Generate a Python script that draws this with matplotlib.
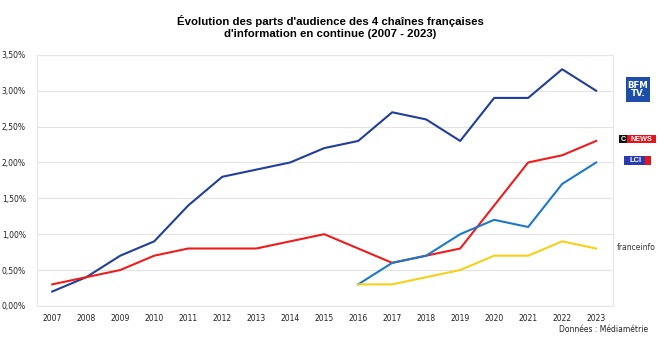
import matplotlib.pyplot as plt
from matplotlib.patches import Rectangle
from matplotlib.ticker import FuncFormatter

years = list(range(2007, 2024))
bfm = [0.2, 0.4, 0.7, 0.9, 1.4, 1.8, 1.9, 2.0, 2.2, 2.3, 2.7, 2.6, 2.3, 2.9, 2.9, 3.3, 3.0]
cnews = [0.3, 0.4, 0.5, 0.7, 0.8, 0.8, 0.8, 0.9, 1.0, 0.8, 0.6, 0.7, 0.8, 1.4, 2.0, 2.1, 2.3]
years_new = list(range(2016, 2024))
lci = [0.3, 0.6, 0.7, 1.0, 1.2, 1.1, 1.7, 2.0]
franceinfo = [0.3, 0.3, 0.4, 0.5, 0.7, 0.7, 0.9, 0.8]

fig = plt.figure(figsize=(6.6, 3.41), dpi=100)
ax = fig.add_axes([0.056, 0.103, 0.873, 0.736])

ax.plot(years, bfm, color='#1f3f98', lw=1.5)
ax.plot(years, cnews, color='#ef1c1c', lw=1.5)
ax.plot(years_new, lci, color='#1c78c8', lw=1.5)
ax.plot(years_new, franceinfo, color='#f7d117', lw=1.5)

ax.set_xlim(2006.55, 2023.5)
ax.set_ylim(0, 3.5)
ax.set_xticks(years)
ax.set_yticks([i * 0.5 for i in range(8)])
ax.yaxis.set_major_formatter(FuncFormatter(lambda v, p: f'{v:.2f}%'.replace('.', ',')))
ax.tick_params(length=0, labelsize=5.5, colors='#222222')
ax.tick_params(axis='x', pad=6)
ax.tick_params(axis='y', pad=8)
ax.grid(axis='y', color='#e3e3e3', lw=0.8)
ax.set_axisbelow(True)
for s in ax.spines.values():
    s.set_color('#e6e6e6')
    s.set_linewidth(0.8)

fig.text(0.5, 0.92, "Évolution des parts d'audience des 4 chaînes françaises\nd'information en continue (2007 - 2023)",
         ha='center', va='center', fontsize=8.2, fontweight='bold', linespacing=1.3,
         family='Liberation Sans')
fig.text(0.982, 0.035, 'Données : Médiamétrie', ha='right', va='center', fontsize=5.5,
         color='#222222')

# channel logos on the right
W, H = 660, 341


def box(x0, y0, x1, y1, color):
    fig.patches.append(Rectangle((x0 / W, 1 - y1 / H), (x1 - x0) / W, (y1 - y0) / H,
                                 transform=fig.transFigure, color=color, lw=0))


box(626, 77, 650, 102, '#1d4fa8')
fig.text(638 / W, 1 - 89.5 / H, 'BFM\nTV.', ha='center', va='center', color='white',
         fontsize=6.2, fontweight='bold', linespacing=0.85, family='Liberation Sans Narrow')

box(619, 135, 627, 143, '#111111')
box(627, 135, 656, 143, '#e3161e')
fig.text(623 / W, 1 - 139 / H, 'C', ha='center', va='center', color='white',
         fontsize=5.2, fontweight='bold', family='Liberation Sans')
fig.text(641.5 / W, 1 - 139 / H, 'NEWS', ha='center', va='center', color='white',
         fontsize=5.2, fontweight='bold', family='Liberation Sans')

box(624, 156, 645, 165, '#2a3bb0')
box(645, 156, 651, 165, '#e3161e')
fig.text(636 / W, 1 - 160.5 / H, 'LCI', ha='center', va='center', color='white',
         fontsize=5.5, fontweight='bold', family='Liberation Sans')

fig.text(636.5 / W, 1 - 248 / H, 'franceinfo', ha='center', va='center', color='#333333',
         fontsize=5.5)

fig.savefig('out.png', dpi=100)
